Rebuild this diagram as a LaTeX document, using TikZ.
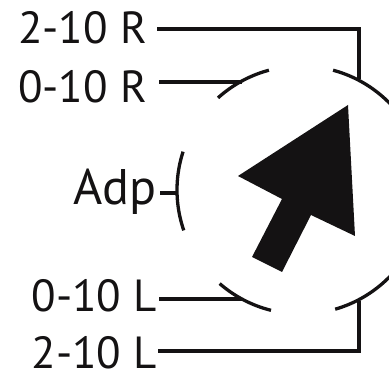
\documentclass[tikz,border=0pt]{standalone}
\usepackage{fontspec}
\setmainfont{PT Sans}
\definecolor{ink}{HTML}{141213}
\tikzset{
  lbl/.style={anchor=base east,inner sep=0pt,font=\fontsize{45}{45}\selectfont,text=ink},
  biglbl/.style={lbl,font=\fontsize{50}{50}\selectfont},
  thick line/.style={draw=ink,line width=4.6pt},
  thin line/.style={draw=ink,line width=3.4pt},
  rim/.style={draw=ink,line width=3.3pt},
}
\newcommand{\rimarc}[2]{\draw[rim] plot[domain=#1:#2,samples=40,smooth] ({301+124*cos(\x)},{190-124*sin(\x)});}
\begin{document}
\begin{tikzpicture}[x=1pt,y=-1pt]
\useasboundingbox (0,0) rectangle (389,374);
\clip (0,0) rectangle (389,374);
% labels
\node[lbl] (rtwo) at (147,43.5) {2-10 R};
\node[lbl] (rzero) at (147,102.5) {0-10 R};
\node[biglbl] (adp) at (157,204.5) {Adp};
\node[lbl] (lzero) at (157,311.5) {0-10 L};
\node[lbl] (ltwo) at (157,368.5) {2-10 L};
% rim arcs
\rimarc{44}{75}
\rimarc{105}{132}
\rimarc{162}{199}
\rimarc{229}{256}
\rimarc{286}{316}
% connector ends
\coordinate (rtwoS) at (157,29);
\coordinate (rtwoC) at (359,29);
\coordinate (rtwoE) at (359,79);
\coordinate (rzeroS) at (159,82);
\coordinate (rzeroE) at (242,82);
\coordinate (adpS) at (160,193);
\coordinate (adpE) at (178,193);
\coordinate (lzeroS) at (159,299);
\coordinate (lzeroE) at (242,299);
\coordinate (ltwoS) at (158,351);
\coordinate (ltwoC) at (359,351);
\coordinate (ltwoE) at (359,301);
\draw[thick line,line join=miter] (rtwoS) -- (rtwoC) -- (rtwoE);
\draw[thin line] (rzeroS) -- (rzeroE);
\draw[thin line] (adpS) -- (adpE);
\draw[thin line] (lzeroS) -- (lzeroE);
\draw[thick line,line join=miter] (ltwoS) -- (ltwoC) -- (ltwoE);
% arrow
\fill[ink] (348,105) -- (238,176) -- (282,199) -- (252,257) -- (282,272) -- (311,215) -- (355,236) -- cycle;
\end{tikzpicture}
\end{document}
